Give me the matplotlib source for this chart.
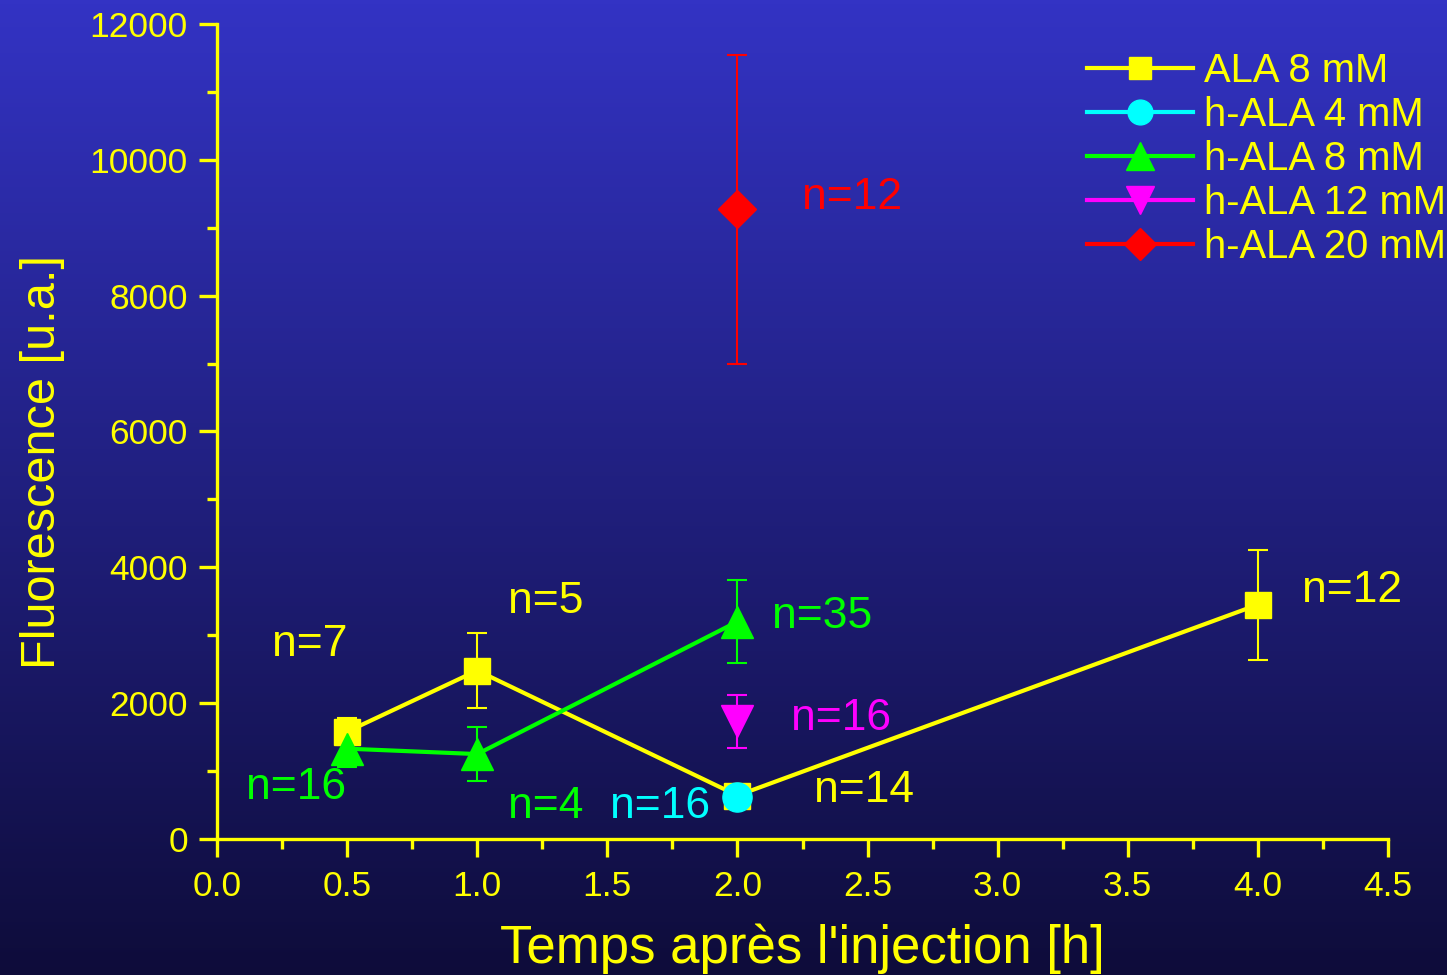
import numpy as np
import matplotlib
matplotlib.use("Agg")
import matplotlib.pyplot as plt
from matplotlib.ticker import MultipleLocator

plt.rcParams['font.family'] = ['Liberation Sans', 'DejaVu Sans']

# data
ala8_x = [0.5, 1.0, 2.0, 4.0]
ala8_y = [1580, 2480, 640, 3450]
ala8_err = [200, 550, 120, 810]

hala4_x = [2.0]
hala4_y = [620]
hala4_err = [80]

hala8_x = [0.5, 1.0, 2.0]
hala8_y = [1330, 1250, 3200]
hala8_err = [270, 400, 610]

hala12_x = [2.0]
hala12_y = [1730]
hala12_err = [390]

hala20_x = [2.0]
hala20_y = [9270]
hala20_err = [2270]

# n= annotations: (x, y, text, colour)
notes_x = [0.357, 1.264, 4.363, 2.487, 0.304, 1.264, 2.325, 2.398, 1.703, 2.441]
notes_y = [2857, 3490, 3652, 707, 751, 471, 3269, 1767, 471, 9439]
notes_txt = ["n=7", "n=5", "n=12", "n=14", "n=16", "n=4", "n=35", "n=16", "n=16", "n=12"]
notes_col = ["#ffff00", "#ffff00", "#ffff00", "#ffff00", "#00ff00", "#00ff00",
             "#00ff00", "#ff00ff", "#00ffff", "#ff0000"]

yellow = "#ffff00"

fig = plt.figure(figsize=(14.47, 9.75), dpi=100)

# background gradient
bg = fig.add_axes([0, 0, 1, 1], zorder=-10)
top = np.array([0x33, 0x33, 0xc4]) / 255
bot = np.array([0x0e, 0x0c, 0x3a]) / 255
t = np.linspace(0, 1, 256)[:, None]
grad = (top * (1 - t) + bot * t)[:, None, :]
bg.imshow(grad, aspect='auto', extent=[0, 1, 0, 1])
bg.axis('off')

ax = fig.add_axes([0.15, 0.1395, 0.8092, 0.836])
ax.set_facecolor('none')

series = [
    (ala8_x, ala8_y, ala8_err, yellow, 's', 19, "ALA 8 mM"),
    (hala4_x, hala4_y, hala4_err, "#00ffff", 'o', 21, "h-ALA 4 mM"),
    (hala8_x, hala8_y, hala8_err, "#00ff00", '^', 23, "h-ALA 8 mM"),
    (hala12_x, hala12_y, hala12_err, "#ff00ff", 'v', 23, "h-ALA 12 mM"),
    (hala20_x, hala20_y, hala20_err, "#ff0000", 'D', 19, "h-ALA 20 mM"),
]

for xs, ys, es, c, m, ms, lab in series:
    ax.errorbar(xs, ys, yerr=es, fmt='none', ecolor=c, elinewidth=1.5,
                capsize=7, capthick=1.5, zorder=2)
    ax.plot(xs, ys, color=c, lw=3, marker=m, markersize=ms,
            markeredgecolor=c, label=lab, zorder=3)

for x, y, s, c in zip(notes_x, notes_y, notes_txt, notes_col):
    ax.text(x, y, s, color=c, fontsize=32, ha='center', va='center')

ax.set_xlim(0, 4.5)
ax.set_ylim(0, 12000)
ax.xaxis.set_major_locator(MultipleLocator(0.5))
ax.xaxis.set_minor_locator(MultipleLocator(0.25))
ax.yaxis.set_major_locator(MultipleLocator(2000))
ax.yaxis.set_minor_locator(MultipleLocator(1000))
ax.xaxis.set_major_formatter(lambda v, p: f"{v:.1f}")

for s in ['top', 'right']:
    ax.spines[s].set_visible(False)
for s in ['left', 'bottom']:
    ax.spines[s].set_color(yellow)
    ax.spines[s].set_linewidth(2.4)

ax.tick_params(which='both', direction='out', color=yellow, width=2.4,
               labelcolor=yellow, labelsize=25.5)
ax.tick_params(which='major', length=13)
ax.tick_params(which='minor', length=7)
ax.tick_params(axis='x', pad=9)
ax.tick_params(axis='y', pad=8)

ax.set_xlabel("Temps après l'injection [h]", color=yellow, fontsize=38, labelpad=15)
ax.set_ylabel("Fluorescence [u.a.]", color=yellow, fontsize=35)
ax.yaxis.set_label_coords(-0.13, 0.4626)

leg = ax.legend(loc='upper left', bbox_to_anchor=(1087 / 1447, 1 - 52 / 975),
                bbox_transform=fig.transFigure, frameon=False, fontsize=28.8,
                handlelength=2.65, handletextpad=0.28, labelspacing=0.15,
                borderpad=0, borderaxespad=0, numpoints=1)
for txt in leg.get_texts():
    txt.set_color(yellow)
for h in leg.legend_handles:
    h.set_markersize(h.get_markersize() * 0.85)

fig.savefig("out.png", dpi=100)
